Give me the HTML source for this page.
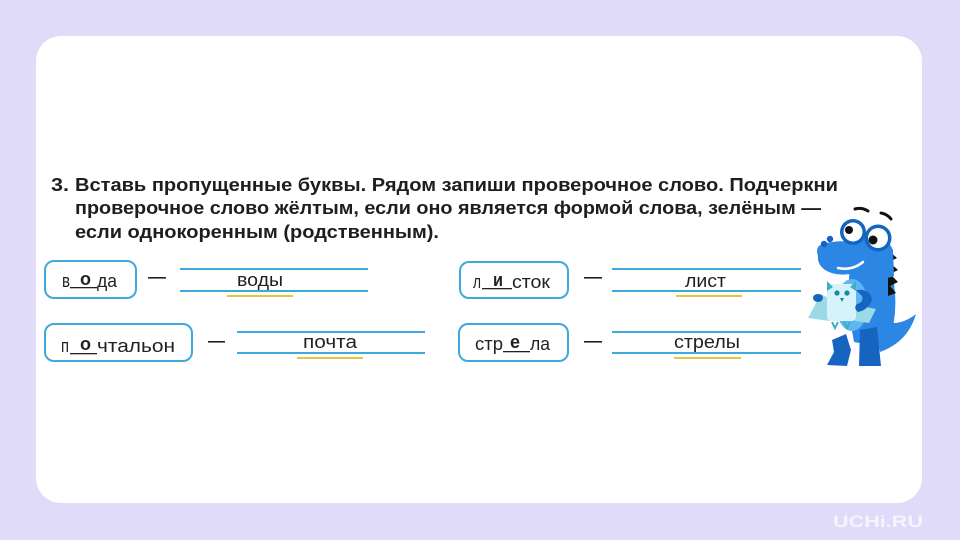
<!DOCTYPE html>
<html><head><meta charset="utf-8"><style>
html,body{margin:0;padding:0;width:960px;height:540px;overflow:hidden;background:#dfdbf8;}
svg{display:block}
text{font-family:"Liberation Sans",sans-serif;}
</style></head><body>
<svg width="960" height="540" viewBox="0 0 960 540" xmlns="http://www.w3.org/2000/svg">
<rect x="0" y="0" width="960" height="540" fill="#dfdbf8"/>
<rect x="36" y="36" width="886" height="467" rx="25" fill="#ffffff"/>

<!-- heading -->
<g fill="#1e1e1e" font-weight="bold" font-size="18">
<text x="51" y="191" textLength="18" lengthAdjust="spacingAndGlyphs">3.</text>
<text x="75" y="191" textLength="763" lengthAdjust="spacingAndGlyphs">Вставь пропущенные буквы. Рядом запиши проверочное слово. Подчеркни</text>
<text x="75" y="214" textLength="746" lengthAdjust="spacingAndGlyphs">проверочное слово жёлтым, если оно является формой слова, зелёным —</text>
<text x="75" y="238" textLength="364" lengthAdjust="spacingAndGlyphs">если однокоренным (родственным).</text>
</g>

<!-- boxes -->
<g fill="none" stroke="#3ea9db" stroke-width="2">
<rect x="45" y="261" width="91" height="37" rx="9"/>
<rect x="45" y="324" width="147" height="37" rx="9"/>
<rect x="460" y="262" width="108" height="36" rx="9"/>
<rect x="459" y="324" width="109" height="37" rx="9"/>
</g>

<!-- answer lines -->
<g fill="#3ea9db">
<rect x="180" y="268" width="188" height="2"/>
<rect x="180" y="290" width="188" height="2"/>
<rect x="237" y="331" width="188" height="2"/>
<rect x="237" y="352" width="188" height="2"/>
<rect x="612" y="268" width="189" height="2"/>
<rect x="612" y="290" width="189" height="2"/>
<rect x="612" y="331" width="189" height="2"/>
<rect x="612" y="352" width="189" height="2"/>
</g>

<!-- yellow underlines -->
<g fill="#e4c53e">
<rect x="227" y="295" width="66" height="2"/>
<rect x="297" y="357" width="66" height="2"/>
<rect x="676" y="295" width="66" height="2"/>
<rect x="674" y="357" width="67" height="2"/>
</g>

<!-- dashes -->
<g fill="#222">
<rect x="148" y="277" width="18" height="1.6"/>
<rect x="208" y="341" width="17" height="1.6"/>
<rect x="584" y="277" width="18" height="1.6"/>
<rect x="584" y="341" width="18" height="1.6"/>
</g>

<!-- underscores in boxes -->
<g fill="#222">
<rect x="70" y="287" width="27" height="1.3"/>
<rect x="70" y="353" width="27" height="1.3"/>
<rect x="482" y="288" width="30" height="1.3"/>
<rect x="503" y="351" width="27" height="1.3"/>
</g>

<!-- box words -->
<g fill="#222" font-size="18">
<text x="62" y="287" textLength="8" lengthAdjust="spacingAndGlyphs">в</text>
<text x="80" y="285" font-weight="bold" textLength="11" lengthAdjust="spacingAndGlyphs">о</text>
<text x="97" y="287" textLength="20" lengthAdjust="spacingAndGlyphs">да</text>

<text x="61" y="352" textLength="8" lengthAdjust="spacingAndGlyphs">п</text>
<text x="80" y="350" font-weight="bold" textLength="11" lengthAdjust="spacingAndGlyphs">о</text>
<text x="97" y="352" textLength="78" lengthAdjust="spacingAndGlyphs">чтальон</text>

<text x="473" y="288" textLength="8" lengthAdjust="spacingAndGlyphs">л</text>
<text x="493" y="286" font-weight="bold" textLength="10" lengthAdjust="spacingAndGlyphs">и</text>
<text x="512" y="288" textLength="38" lengthAdjust="spacingAndGlyphs">сток</text>

<text x="475" y="350" textLength="28" lengthAdjust="spacingAndGlyphs">стр</text>
<text x="510" y="348" font-weight="bold" textLength="10" lengthAdjust="spacingAndGlyphs">е</text>
<text x="530" y="350" textLength="20" lengthAdjust="spacingAndGlyphs">ла</text>
</g>

<!-- answer words -->
<g fill="#222" font-size="18">
<text x="237" y="286" textLength="46" lengthAdjust="spacingAndGlyphs">воды</text>
<text x="303" y="348" textLength="54" lengthAdjust="spacingAndGlyphs">почта</text>
<text x="685" y="287" textLength="41" lengthAdjust="spacingAndGlyphs">лист</text>
<text x="674" y="348" textLength="66" lengthAdjust="spacingAndGlyphs">стрелы</text>
</g>

<!-- dragon -->
<g>
<path d="M872 318 Q896 330 916 314 Q908 342 880 352 Z" fill="#2b86e4"/>
<path d="M850 268 Q846 300 854 342 L886 348 Q899 318 894 284 Q891 256 874 250 Z" fill="#2b86e4"/>
<ellipse cx="852" cy="305" rx="16" ry="26" fill="#5cb6f2"/>
<polygon points="888,250 897,258 889,262 898,270 890,274 898,282 890,286 896,293 888,296" fill="#111"/>
<path d="M818 256 Q814 245 826 243 Q840 240 852 242 L860 234 Q882 226 893 250 L894 276 Q880 282 860 272 Q838 278 825 270 Q817 264 818 256 Z" fill="#2b86e4"/>
<circle cx="824" cy="244" r="3.2" fill="#1565c0"/>
<circle cx="830" cy="239" r="3.2" fill="#1565c0"/>
<path d="M838 268 Q852 271 863 262" stroke="#fff" stroke-width="2.5" fill="none" stroke-linecap="round"/>
<circle cx="853" cy="232" r="13" fill="#1565c0"/>
<circle cx="853" cy="232" r="9.5" fill="#fff"/>
<circle cx="849" cy="230" r="4" fill="#111"/>
<circle cx="878" cy="238" r="13.5" fill="#1565c0"/>
<circle cx="878" cy="238" r="10" fill="#fff"/>
<circle cx="873" cy="240" r="4.5" fill="#111"/>
<path d="M855 209 Q862 207 868 211" stroke="#111" stroke-width="3" fill="none" stroke-linecap="round"/>
<path d="M881 213 Q887 214 891 219" stroke="#111" stroke-width="3" fill="none" stroke-linecap="round"/>
<polygon points="832,340 846,334 851,350 847,366 827,365 834,352" fill="#1565c0"/>
<polygon points="860,330 877,327 881,366 859,366" fill="#1565c0"/>
<polygon points="808,318 821,294 832,300 830,321" fill="#9ad9e6"/>
<polygon points="856,305 876,309 869,323 855,321" fill="#9ad9e6"/>
<rect x="827" y="284" width="29" height="37" rx="4" fill="#d6f2fb"/>
<polygon points="827,281 833,287 827,291" fill="#3fb0c4"/>
<polygon points="856,281 850,287 856,291" fill="#3fb0c4"/>
<circle cx="837" cy="293" r="2.6" fill="#1a8a9a"/>
<circle cx="847" cy="293" r="2.6" fill="#1a8a9a"/>
<polygon points="840,298 844,298 842,302" fill="#1a8a9a"/>
<path d="M832 322 l3 6 l3 -6 M844 322 l3 6 l3 -6" stroke="#3fb0c4" stroke-width="2" fill="none"/>
<path d="M856 290 Q870 288 872 300 Q868 310 858 312 Q853 308 857 304 Q864 302 862 296 Z" fill="#1565c0"/>
<ellipse cx="818" cy="298" rx="5" ry="4" fill="#1565c0"/>
</g>

<text x="833" y="527" fill="#f6f4ff" font-size="17" font-weight="bold" textLength="90" lengthAdjust="spacingAndGlyphs">UCHi.RU</text>
</svg>
</body></html>
